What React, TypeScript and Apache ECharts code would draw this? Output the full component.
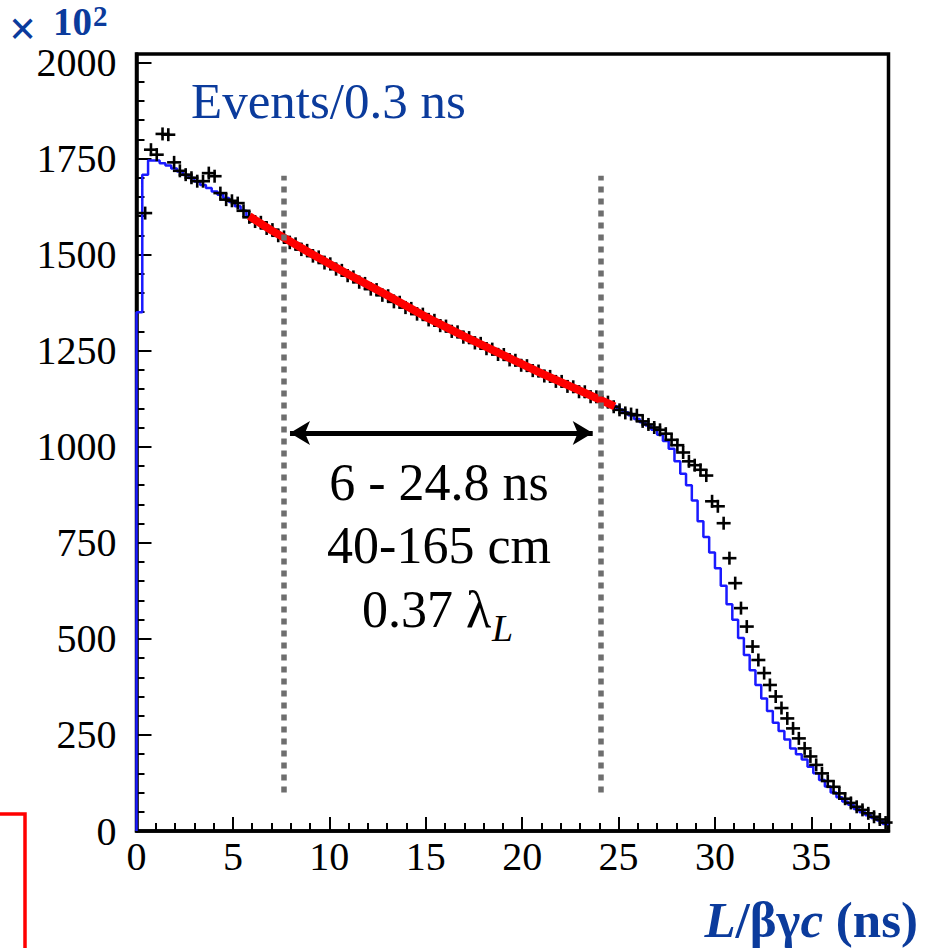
import React, { useEffect, useRef } from "react";
import * as echarts from "echarts";

// ---- data ----
const BIN_WIDTH = 0.3; // ns
const X_MAX = 39;
const Y_MAX = 2022;
const xTickLabels = [0, 5, 10, 15, 20, 25, 30, 35];
const yTickLabels = [0, 250, 500, 750, 1000, 1250, 1500, 1750, 2000];

// Monte Carlo histogram (blue), x10^2 events per 0.3 ns bin, 130 bins
const mcCounts = [
  1350, 1708, 1745, 1745, 1738, 1732, 1724, 1716, 1707, 1699,
  1690, 1681, 1673, 1664, 1656, 1647, 1637, 1626, 1614, 1600,
  1590, 1579, 1572, 1561, 1553, 1542, 1535, 1524, 1517, 1507,
  1500, 1489, 1483, 1472, 1466, 1455, 1449, 1438, 1432, 1421,
  1415, 1405, 1399, 1389, 1382, 1372, 1366, 1356, 1350, 1341,
  1335, 1325, 1320, 1310, 1304, 1295, 1289, 1280, 1274, 1265,
  1259, 1250, 1245, 1236, 1230, 1221, 1216, 1207, 1202, 1193,
  1188, 1179, 1174, 1166, 1161, 1152, 1147, 1139, 1134, 1126,
  1121, 1113, 1106, 1097, 1090, 1082, 1072, 1064, 1055, 1044,
  1031, 1015, 995, 962, 930, 900, 860, 806, 765, 725,
  684, 638, 590, 550, 502, 458, 418, 380, 345, 312,
  282, 260, 238, 215, 200, 186, 167, 150, 133, 116,
  100, 88, 77, 68, 57, 49, 41, 34, 27, 18,
];

// Measured data (black crosses), same bins
const dataCounts: (number | null)[] = [
  null, 1608, 1773, 1760, 1814, 1812, 1740, 1718, 1708, 1700,
  1691, 1691, 1712, 1704, 1660, 1643, 1640, 1634, 1614, 1597,
  1586, 1584, 1568, 1565, 1549, 1546, 1531, 1528, 1513, 1511,
  1496, 1494, 1478, 1476, 1462, 1459, 1445, 1442, 1428, 1425,
  1410, 1409, 1394, 1393, 1377, 1376, 1362, 1360, 1345, 1345,
  1330, 1329, 1315, 1314, 1300, 1299, 1285, 1284, 1270, 1269,
  1255, 1254, 1240, 1240, 1226, 1225, 1212, 1211, 1198, 1197,
  1184, 1183, 1170, 1170, 1157, 1156, 1143, 1143, 1130, 1130,
  1117, 1116, 1104, 1096, 1088, 1085, 1082, 1066, 1058, 1050,
  1044, 1034, 1018, 1004, 985, 962, 952, 940, 925, 858,
  845, 801, 710, 645, 580, 532, 480, 445, 411, 380,
  350, 320, 293, 267, 241, 215, 194, 172, 150, 130,
  115, 98, 84, 73, 63, 55, 46, 37, 30, 22,
];

// Exponential fit (red), 6 - 24.8 ns
const fitX = [5.85, 7, 9, 11, 13, 15, 17, 19, 21, 23, 24.8];
const fitY = [1600, 1563, 1504, 1448, 1394, 1338, 1287, 1239, 1191, 1146, 1105];

// annotation geometry (data coordinates)
const cutLinesX = [7.63, 24.1];
const cutLinesY = [100, 1705];
const arrowX = [7.96, 23.66];
const arrowY = 1036;

const SERIF = '"Liberation Serif", "Times New Roman", serif';
const BLUE_TEXT = "#0b3b9c";

export default function App() {
  const ref = useRef<HTMLDivElement>(null);

  useEffect(() => {
    if (!ref.current) return;
    const chart = echarts.init(ref.current, undefined, { renderer: "svg" });

    const xMinor: number[] = [];
    for (let v = 1; v < X_MAX; v++) if (v % 5 !== 0) xMinor.push(v);
    const yMinor: number[] = [];
    for (let v = 50; v < 2000; v += 50) if (v % 250 !== 0) yMinor.push(v);

    const mcLine: number[][] = [[0, 0]];
    mcCounts.forEach((v, i) => mcLine.push([+(i * BIN_WIDTH).toFixed(2), v]));
    mcLine.push([X_MAX, mcCounts[mcCounts.length - 1]]);

    const dataPts: number[][] = [];
    dataCounts.forEach((v, i) => {
      if (v != null) dataPts.push([+((i + 0.5) * BIN_WIDTH).toFixed(2), v]);
    });

    const fitLine = fitX.map((x, i) => [x, fitY[i]]);

    const axisCommon = {
      type: "value" as const,
      splitLine: { show: false },
    };

    chart.setOption({
      animation: false,
      backgroundColor: "#ffffff",
      grid: {
        left: 136.5,
        right: 41.5,
        top: 54,
        bottom: 117,
        show: true,
        borderColor: "#000",
        borderWidth: 3.5,
        backgroundColor: "transparent",
      },
      xAxis: [
        {
          ...axisCommon,
          min: 0,
          max: X_MAX,
          position: "bottom",
          axisLine: { show: true, onZero: false, lineStyle: { color: "#000", width: 3.5 } },
          axisTick: {
            show: true,
            inside: true,
            length: 14,
            customValues: xTickLabels,
            lineStyle: { color: "#000", width: 2 },
          },
          axisLabel: {
            customValues: xTickLabels,
            formatter: (v: number) => String(v),
            fontSize: 40,
            fontFamily: SERIF,
            color: "#000",
            margin: 5,
          },
        },
        {
          ...axisCommon,
          min: 0,
          max: X_MAX,
          position: "bottom",
          axisLine: { show: false, onZero: false },
          axisTick: {
            show: true,
            inside: true,
            length: 8,
            customValues: xMinor,
            lineStyle: { color: "#000", width: 2 },
          },
          axisLabel: { show: false },
        },
      ],
      yAxis: [
        {
          ...axisCommon,
          min: 0,
          max: Y_MAX,
          position: "left",
          axisLine: { show: true, onZero: false, lineStyle: { color: "#000", width: 3.5 } },
          axisTick: {
            show: true,
            inside: true,
            length: 15,
            customValues: yTickLabels,
            lineStyle: { color: "#000", width: 2 },
          },
          axisLabel: {
            customValues: yTickLabels,
            formatter: (v: number) => String(v),
            fontSize: 40,
            fontFamily: SERIF,
            color: "#000",
            margin: 20,
          },
        },
        {
          ...axisCommon,
          min: 0,
          max: Y_MAX,
          position: "left",
          offset: 0,
          axisLine: { show: false, onZero: false },
          axisTick: {
            show: true,
            inside: true,
            length: 8,
            customValues: yMinor,
            lineStyle: { color: "#000", width: 2 },
          },
          axisLabel: { show: false },
        },
      ],
      series: [
        {
          type: "line",
          name: "MC",
          data: mcLine,
          step: "end",
          showSymbol: false,
          symbol: "none",
          lineStyle: { color: "#1a1aff", width: 2.5 },
          z: 2,
          silent: true,
        },
        {
          type: "custom",
          name: "data",
          data: dataPts,
          z: 3,
          silent: true,
          renderItem: (params: any, api: any) => {
            const p = api.coord([api.value(0), api.value(1)]);
            return {
              type: "group",
              children: [
                {
                  type: "line",
                  shape: { x1: p[0] - 7, y1: p[1], x2: p[0] + 7, y2: p[1] },
                  style: { stroke: "#000", lineWidth: 2.6 },
                },
                {
                  type: "line",
                  shape: { x1: p[0], y1: p[1] - 6.5, x2: p[0], y2: p[1] + 6.5 },
                  style: { stroke: "#000", lineWidth: 2.6 },
                },
              ],
            };
          },
        },
        {
          type: "line",
          name: "fit",
          data: fitLine,
          showSymbol: false,
          symbol: "none",
          smooth: false,
          lineStyle: { color: "#ff0000", width: 8, cap: "butt" },
          z: 4,
          silent: true,
        },
        {
          type: "line",
          name: "annot",
          data: [],
          z: 5,
          silent: true,
          markLine: {
            silent: true,
            animation: false,
            symbol: "none",
            label: { show: false },
            lineStyle: { color: "#6e6e6e", width: 5.5, type: [6, 6], cap: "butt" },
            data: cutLinesX.map((x) => [
              { coord: [x, cutLinesY[0]] },
              { coord: [x, cutLinesY[1]] },
            ]),
          },
        },
        {
          type: "line",
          name: "arrow",
          data: [],
          z: 6,
          silent: true,
          markLine: {
            silent: true,
            animation: false,
            symbol: ["arrow", "arrow"],
            symbolSize: [18, 20],
            label: { show: false },
            lineStyle: { color: "#000", width: 5, type: "solid" },
            data: [[{ coord: [arrowX[0], arrowY] }, { coord: [arrowX[1], arrowY] }]],
          },
        },
      ],
      graphic: [
        {
          type: "text",
          x: 9,
          y: 28,
          style: {
            text: "×",
            font: `bold 48px ${SERIF}`,
            fill: BLUE_TEXT,
            verticalAlign: "middle",
          },
        },
        {
          type: "text",
          x: 53,
          y: 21.5,
          style: {
            text: "10",
            font: `bold 39px ${SERIF}`,
            fill: BLUE_TEXT,
            verticalAlign: "middle",
          },
        },
        {
          type: "text",
          x: 93,
          y: 16,
          style: {
            text: "2",
            font: `bold 29px ${SERIF}`,
            fill: BLUE_TEXT,
            verticalAlign: "middle",
          },
        },
        {
          type: "text",
          x: 191,
          y: 101,
          style: { text: "Events/0.3 ns", font: `51px ${SERIF}`, fill: BLUE_TEXT, verticalAlign: "middle" },
        },
        {
          type: "text",
          x: 439,
          y: 482.5,
          style: { text: "6 - 24.8 ns", font: `52px ${SERIF}`, fill: "#000", align: "center", verticalAlign: "middle" },
        },
        {
          type: "text",
          x: 439,
          y: 545.5,
          style: { text: "40-165 cm", font: `52px ${SERIF}`, fill: "#000", align: "center", verticalAlign: "middle" },
        },
        {
          type: "text",
          x: 362,
          y: 609.5,
          style: { text: "0.37 λ", font: `52px ${SERIF}`, fill: "#000", verticalAlign: "middle" },
        },
        {
          type: "text",
          x: 492,
          y: 628,
          style: { text: "L", font: `italic 38px ${SERIF}`, fill: "#000", verticalAlign: "middle" },
        },
        {
          type: "text",
          x: 918,
          y: 920,
          style: {
            text: "{i|L}{n|/βγ}{i|c}{n| (ns)}",
            align: "right",
            verticalAlign: "middle",
            rich: {
              i: { font: `italic bold 51px ${SERIF}`, fill: BLUE_TEXT },
              n: { font: `bold 51px ${SERIF}`, fill: BLUE_TEXT },
            },
          },
        },
        {
          type: "polyline",
          shape: { points: [[0, 814], [25, 814], [25, 948]] },
          style: { stroke: "#ff0000", lineWidth: 3.5, fill: "none" },
        },
      ],
    });

    return () => chart.dispose();
  }, []);

  return (
    <div
      ref={ref}
      style={{ position: "fixed", left: 0, top: 0, width: 930, height: 948, background: "#fff" }}
    />
  );
}
